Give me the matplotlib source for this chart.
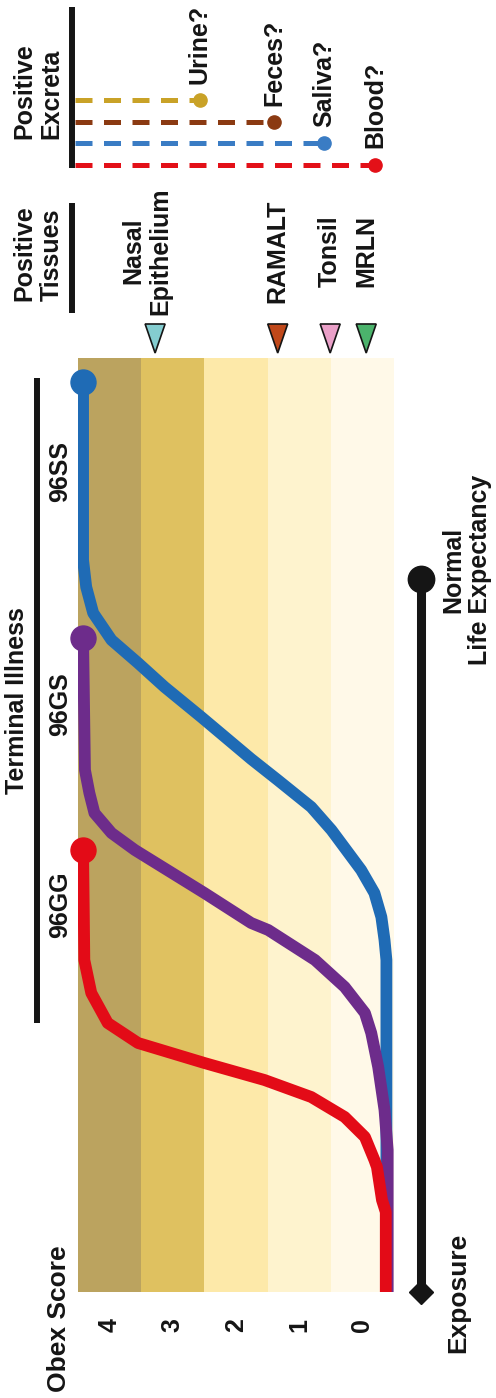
import matplotlib
matplotlib.use('Agg')
import matplotlib.pyplot as plt
from matplotlib.patches import Polygon

# obex score bands (one band per score)
obexScores = [4, 3, 2, 1, 0]
bandColors = ['#BBA35F', '#DFC160', '#FDE9A9', '#FEF3CE', '#FFF9E8']

# time since exposure (arbitrary units) vs obex score, per genotype
ggTime = [0, 80, 92, 125, 132, 155, 175, 195, 212, 229, 249, 269, 299, 332, 442]
ggScore = [-0.37, -0.37, -0.31, -0.23, -0.19, -0.04, 0.28, 0.81, 1.55, 2.50, 3.55, 4.03, 4.29, 4.40, 4.42]

gsTime = [0, 142, 182, 225, 259, 279, 305, 332, 362, 369, 399, 442, 459, 479, 499, 522, 654]
gsScore = [-0.40, -0.40, -0.35, -0.25, -0.14, -0.04, 0.28, 0.75, 1.49, 1.76, 2.50, 3.60, 3.97, 4.24, 4.32, 4.39, 4.42]

ssTime = [0, 332, 352, 375, 399, 422, 462, 485, 512, 533, 575, 605, 629, 652, 679, 705, 732, 910]
ssScore = [-0.38, -0.38, -0.35, -0.30, -0.19, 0.02, 0.49, 0.81, 1.34, 1.76, 2.55, 3.13, 3.55, 3.97, 4.26, 4.37, 4.42, 4.42]

genotypes = ['96SS', '96GS', '96GG']
genotypeColors = ['#1F6BB5', '#6D2C8B', '#E30B17']

# tissues that turn positive, and the obex score where they do
tissueNames = ['Nasal\nEpithelium', 'RAMALT', 'Tonsil', 'MRLN']
tissueScores = [3.28, 1.34, 0.51, -0.06]
tissueColors = ['#84CDD0', '#C0481A', '#EAA0C8', '#4BB36C']

# excreta that may turn positive
excretaNames = ['Urine?', 'Feces?', 'Saliva?', 'Blood?']
excretaScores = [2.57, 1.40, 0.61, -0.20]
excretaColors = ['#C9A227', '#8B3A12', '#3A7CC4', '#E31018']

lifeExpectancy = 713
terminalIllness = [269, 914]

plt.rcParams['font.family'] = ['Liberation Sans', 'DejaVu Sans']
plt.rcParams['font.weight'] = 'bold'
ink = '#151515'
fontSize = 18

fig = plt.figure(figsize=(4.96, 13.98), dpi=100)
ax = fig.add_axes([78/496, 106/1398, 316/496, 934/1398])
ax.set_xlim(4.5, -0.5)
ax.set_ylim(0, 934)

# background bands
for s, c in zip(obexScores, bandColors):
  ax.axvspan(s - 0.5, s + 0.5, color=c, lw=0, zorder=0)

# genotype curves
allTimes = [ssTime, gsTime, ggTime]
allScores = [ssScore, gsScore, ggScore]
z = 2
for name, times, scores, color in zip(genotypes, allTimes, allScores, genotypeColors):
  ax.plot(scores, times, color=color, lw=8.5, solid_capstyle='butt', solid_joinstyle='round', zorder=z)
  ax.plot(scores[-1], times[-1], 'o', ms=18, color=color, zorder=z, clip_on=False)
  ax.text(4.785, (times[-1] + times[-2])/2, name, rotation=90, ha='center', va='center', fontsize=fontSize, color=ink)
  z += 1

# terminal illness bar
ax.plot([5.149, 5.149], terminalIllness, color=ink, lw=4.3, solid_capstyle='butt', clip_on=False)
ax.text(5.465, sum(terminalIllness)/2, 'Terminal Illness', rotation=90, ha='center', va='center', fontsize=fontSize, color=ink)

# time line from exposure to normal life expectancy
ax.plot([-0.927, -0.927], [0, lifeExpectancy], color=ink, lw=6.5, solid_capstyle='butt', clip_on=False)
ax.plot(-0.927, 0, 'D', ms=12.5, color=ink, clip_on=False)
ax.plot(-0.927, lifeExpectancy, 'o', ms=19, color=ink, clip_on=False)
ax.text(-1.51, -1, 'Exposure', rotation=90, ha='center', va='center', fontsize=19, color=ink)
ax.text(-1.655, lifeExpectancy + 9, 'Normal\nLife Expectancy', rotation=90, ha='center', va='center',
        multialignment='center', fontsize=fontSize, color=ink, linespacing=1.15)

# obex score axis
ax.set_xticks(obexScores)
ax.set_xticklabels([str(s) for s in obexScores])
ax.tick_params(axis='x', length=0, pad=19, labelsize=fontSize, labelrotation=90, labelcolor=ink)
ax.set_yticks([])
for sp in ax.spines.values():
  sp.set_visible(False)
ax.text(4.80, -27, 'Obex Score', rotation=90, ha='center', va='center', fontsize=19, color=ink)

# positive tissues
ax.text(5.133, 991, 'Positive\nTissues', rotation=90, ha='center', va='bottom', multialignment='left',
        fontsize=fontSize, color=ink, linespacing=1.15)
ax.plot([4.595, 4.595], [979, 1089], color=ink, lw=4.3, solid_capstyle='butt', clip_on=False)
for name, s, c in zip(tissueNames, tissueScores, tissueColors):
  tri = Polygon([(s - 0.158, 968), (s + 0.158, 968), (s, 939)], closed=True, fc=c, ec=ink, lw=1.2, clip_on=False)
  ax.add_patch(tri)
  shift = 0.13 if '\n' in name else 0.0
  ax.text(s + shift, 1041, name, rotation=90, ha='center', va='center', multialignment='center',
          fontsize=fontSize, color=ink, linespacing=1.15)

# positive excreta
ax.text(5.133, 1153, 'Positive\nExcreta', rotation=90, ha='center', va='bottom', multialignment='left',
        fontsize=fontSize, color=ink, linespacing=1.15)
ax.plot([4.595, 4.595], [1124, 1285], color=ink, lw=4.3, solid_capstyle='butt', clip_on=False)
for i, (name, s, c) in enumerate(zip(excretaNames, excretaScores, excretaColors)):
  t = 1192 - 21.5*i
  ax.plot([4.55, s], [t, t], color=c, lw=3.6, ls=(0, (3.4, 2.3)), clip_on=False)
  ax.plot(s, t, 'o', ms=9.5, color=c, clip_on=False)
  ax.text(s, t + 16, name, rotation=90, ha='center', va='bottom', fontsize=fontSize, color=ink)

fig.savefig('out.png', dpi=100)
